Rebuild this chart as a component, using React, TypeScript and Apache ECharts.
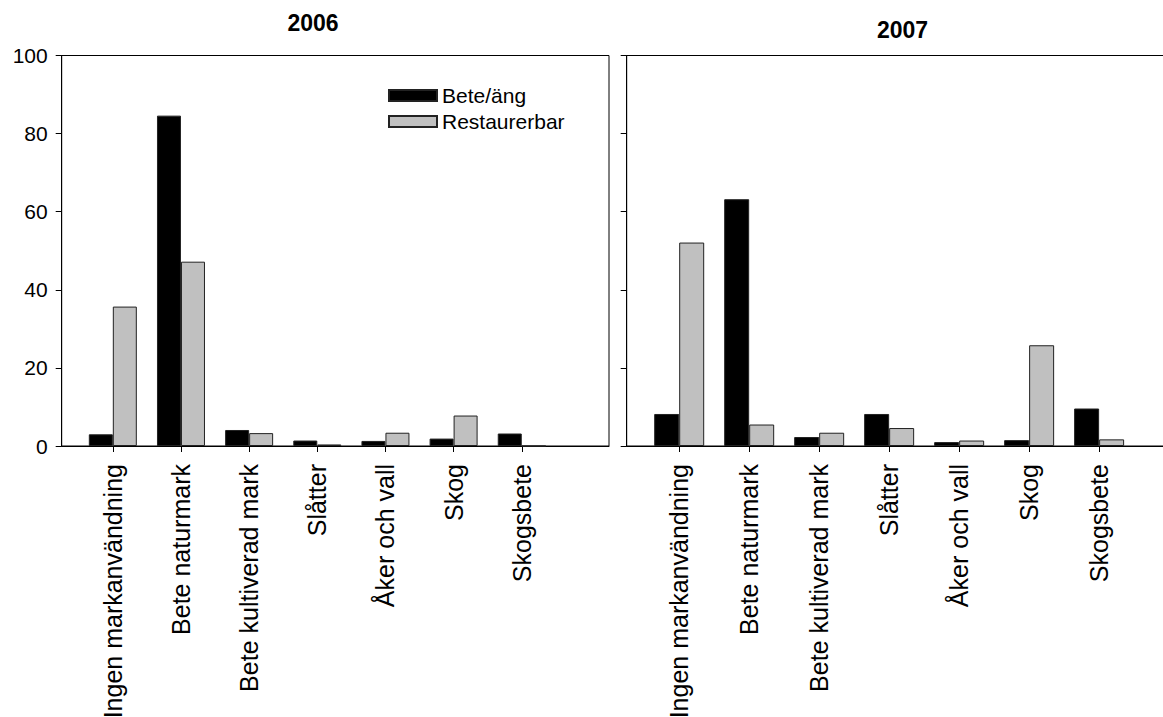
import React, { useEffect, useRef } from "react";
import * as echarts from "echarts";

const categories = [
  "Ingen markanvändning",
  "Bete naturmark",
  "Bete kultiverad mark",
  "Slåtter",
  "Åker och vall",
  "Skog",
  "Skogsbete",
];
const years = ["2006", "2007"];
const seriesNames = ["Bete/äng", "Restaurerbar"];
const bete2006 = [3.0, 84.6, 4.1, 1.4, 1.3, 1.9, 3.2];
const rest2006 = [35.7, 47.2, 3.3, 0.4, 3.4, 7.8, 0];
const bete2007 = [8.2, 63.2, 2.3, 8.2, 1.0, 1.5, 9.6];
const rest2007 = [52.1, 5.5, 3.4, 4.6, 1.4, 25.8, 1.7];
const yTicks = [0, 20, 40, 60, 80, 100];

const FONT = "Arial, 'Liberation Sans', Helvetica, sans-serif";

export default function App() {
  const ref = useRef<HTMLDivElement>(null);
  useEffect(() => {
    if (!ref.current) return;
    const chart = echarts.init(ref.current, null, { renderer: "svg" });
    const positions = categories.map((_, i) => i + 1);
    const pts = (vals: number[]) => vals.map((v, i) => [positions[i], v]);

    const xAxisBase = (gridIndex: number) => ({
      type: "value",
      gridIndex,
      min: 0.25,
      max: 8.28,
      splitLine: { show: false },
      axisLine: { show: true, onZero: false, lineStyle: { color: "#000", width: 1 } },
      axisTick: {
        show: true,
        customValues: positions,
        length: 6,
        inside: false,
        lineStyle: { color: "#000", width: 1 },
      },
      axisLabel: {
        show: true,
        customValues: positions,
        rotate: 90,
        margin: 18,
        fontSize: 25,
        color: "#000",
        fontFamily: FONT,
        formatter: (v: number) => categories[Math.round(v) - 1] ?? "",
      },
    });
    const yAxisBase = (gridIndex: number, showLabel: boolean) => ({
      type: "value",
      gridIndex,
      min: yTicks[0],
      max: yTicks[yTicks.length - 1],
      interval: 20,
      splitLine: { show: false },
      axisLine: { show: true, lineStyle: { color: "#000", width: 1 } },
      axisTick: { show: true, length: 6, inside: false, lineStyle: { color: "#000", width: 1 } },
      axisLabel: {
        show: showLabel,
        fontSize: 21,
        color: "#000",
        fontFamily: FONT,
        margin: 14,
      },
    });
    const barStyle = (color: string) => ({
      color,
      borderColor: "#222",
      borderWidth: 1,
    });
    const gridBase = (left: number, width: number) => ({
      left,
      top: 55.5,
      width,
      height: 390.5,
      show: true,
      borderColor: "#000",
      borderWidth: 1,
      backgroundColor: "transparent",
      containLabel: false,
      outerBoundsMode: "none",
    });

    chart.setOption({
      animation: false,
      backgroundColor: "#fff",
      textStyle: { fontFamily: FONT },
      grid: [gridBase(61.7, 547.3), gridBase(626.7, 562)],
      xAxis: [xAxisBase(0), xAxisBase(1)],
      yAxis: [yAxisBase(0, true), yAxisBase(1, false)],
      legend: {
        data: seriesNames,
        orient: "vertical",
        left: 383,
        top: 80,
        itemWidth: 48,
        itemHeight: 11,
        itemGap: 5,
        icon: "rect",
        textStyle: { fontSize: 21, color: "#000", fontFamily: FONT, lineHeight: 21 },
      },
      graphic: [
        {
          type: "text",
          x: 313,
          y: 23,
          style: {
            text: years[0],
            fontSize: 23,
            fontWeight: "bold",
            fontFamily: FONT,
            fill: "#000",
            textAlign: "center",
            textVerticalAlign: "middle",
          },
        },
        {
          type: "text",
          x: 902.5,
          y: 30,
          style: {
            text: years[1],
            fontSize: 23,
            fontWeight: "bold",
            fontFamily: FONT,
            fill: "#000",
            textAlign: "center",
            textVerticalAlign: "middle",
          },
        },
      ],
      series: [
        {
          name: seriesNames[0],
          type: "bar",
          xAxisIndex: 0,
          yAxisIndex: 0,
          data: pts(bete2006),
          barWidth: 24,
          barGap: "0%",
          itemStyle: barStyle("#000"),
        },
        {
          name: seriesNames[1],
          type: "bar",
          xAxisIndex: 0,
          yAxisIndex: 0,
          data: pts(rest2006),
          barWidth: 24,
          barGap: "0%",
          itemStyle: barStyle("#c0c0c0"),
        },
        {
          name: seriesNames[0],
          type: "bar",
          xAxisIndex: 1,
          yAxisIndex: 1,
          data: pts(bete2007),
          barWidth: 25,
          barGap: "0%",
          itemStyle: barStyle("#000"),
        },
        {
          name: seriesNames[1],
          type: "bar",
          xAxisIndex: 1,
          yAxisIndex: 1,
          data: pts(rest2007),
          barWidth: 25,
          barGap: "0%",
          itemStyle: barStyle("#c0c0c0"),
        },
      ],
    });
    return () => chart.dispose();
  }, []);
  return (
    <div
      ref={ref}
      style={{ position: "fixed", left: 0, top: 0, width: 1163, height: 717, overflow: "hidden" }}
    />
  );
}
